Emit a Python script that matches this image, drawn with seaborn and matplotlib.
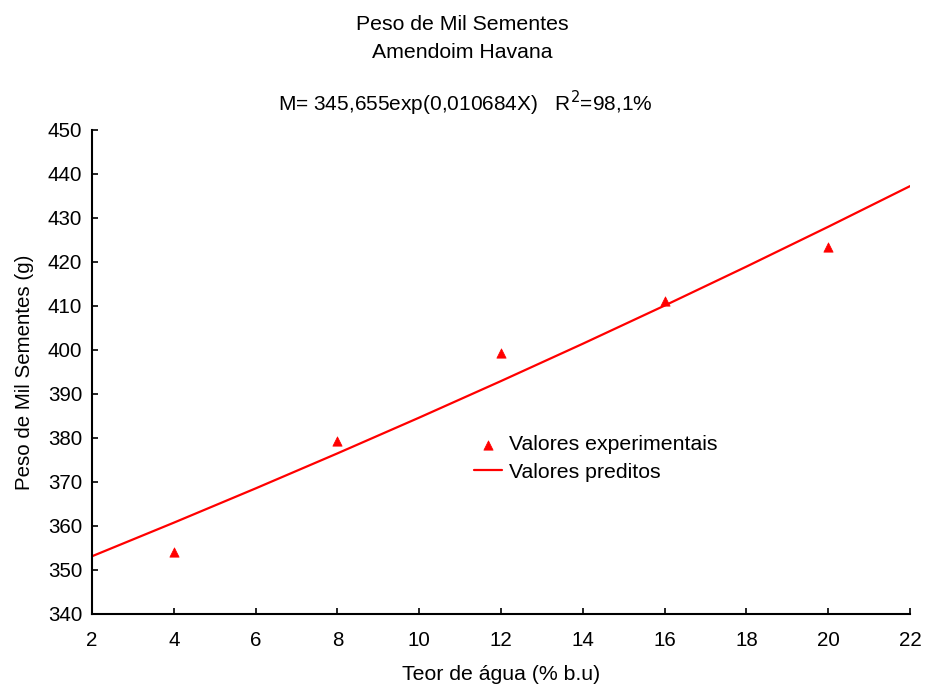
import numpy as np
import pandas as pd
import matplotlib
matplotlib.use("Agg")
import matplotlib.pyplot as plt
import seaborn as sns

# Experimental moisture content (% w.b.) and thousand-seed weight (g)
teor_agua = [4, 8, 12, 16, 20]
peso_exp = [354.1, 379.3, 399.3, 411.1, 423.4]

# Predicted values of the fitted model M = 345,655 exp(0,010684 X)
teor_pred = [2, 4, 6, 8, 10, 12, 14, 16, 18, 20, 22]
peso_pred = [353.12, 360.75, 368.54, 376.50, 384.63, 392.94,
             401.42, 410.09, 418.95, 428.00, 437.24]

x_ticks = [2, 4, 6, 8, 10, 12, 14, 16, 18, 20, 22]
y_ticks = [340, 350, 360, 370, 380, 390, 400, 410, 420, 430, 440, 450]

sns.set_theme(style="white")
plt.rcParams["font.family"] = ["Liberation Sans", "DejaVu Sans"]
plt.rcParams["text.color"] = "black"
plt.rcParams["axes.labelcolor"] = "black"
plt.rcParams["xtick.color"] = "black"
plt.rcParams["ytick.color"] = "black"

df_exp = pd.DataFrame({"x": teor_agua, "y": peso_exp})
df_pred = pd.DataFrame({"x": teor_pred, "y": peso_pred})

fig = plt.figure(figsize=(9.25, 6.87), dpi=100)
ax = fig.add_axes([0.0995, 0.1063, 0.8843, 0.7045])

sns.lineplot(data=df_pred, x="x", y="y", ax=ax, color="#ff0000", lw=1.6,
             label="Valores preditos")
sns.scatterplot(data=df_exp, x="x", y="y", ax=ax, marker="^", color="#ff0000",
                s=45, edgecolor="#ff0000", linewidth=0.5,
                label="Valores experimentais", zorder=3)

ax.set_xlim(2, 22)
ax.set_ylim(340, 450)
ax.set_xticks(x_ticks)
ax.set_yticks(y_ticks)
ax.tick_params(direction="in", length=4, width=1.2, labelsize=14.8,
               colors="black", bottom=True, left=True)
ax.tick_params(axis="x", pad=12)
ax.tick_params(axis="y", pad=7)
for side in ["top", "right"]:
    ax.spines[side].set_visible(False)
for side in ["left", "bottom"]:
    ax.spines[side].set_color("black")
    ax.spines[side].set_linewidth(1.5)

ax.set_xlabel("Teor de água (% b.u)", fontsize=15.3, labelpad=11)
ax.set_ylabel("Peso de Mil Sementes (g)", fontsize=14.8, labelpad=10)

handles, labels = ax.get_legend_handles_labels()
order = [labels.index("Valores experimentais"), labels.index("Valores preditos")]
ax.legend([handles[i] for i in order], [labels[i] for i in order],
          loc="upper left", bbox_to_anchor=(0.492, 0.394),
          bbox_transform=fig.transFigure, frameon=False, fontsize=15.3,
          handlelength=1.3, handletextpad=0.35, labelspacing=0.38)

fig.text(0.5, 0.965, "Peso de Mil Sementes", ha="center", va="center", fontsize=15.3)
fig.text(0.5, 0.924, "Amendoim Havana", ha="center", va="center", fontsize=15.3)
fig.text(0.503, 0.850, "M= 345,655exp(0,010684X)   R$^2$=98,1%",
         ha="center", va="center", fontsize=15.0)

fig.savefig("out.png", dpi=100)
